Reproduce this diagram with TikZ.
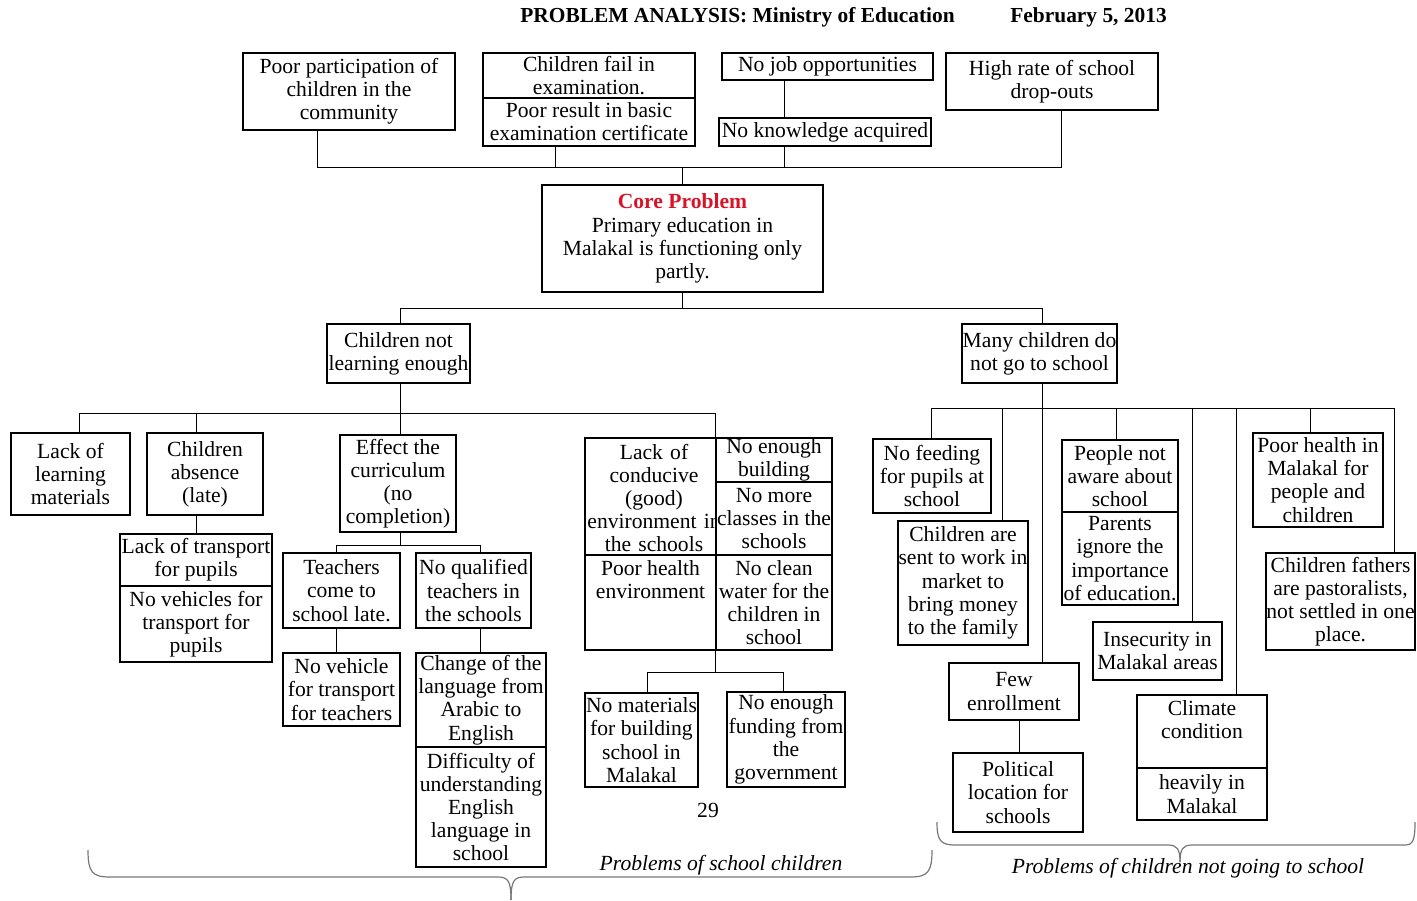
\documentclass[tikz,border=0pt]{standalone}
\usepackage{fontspec}
\setmainfont{Liberation Serif}
\usetikzlibrary{calc}
\definecolor{corered}{RGB}{215,20,40}
\definecolor{bracegray}{RGB}{120,120,120}
\newcommand\fs{\fontsize{10.8}{11.6}\selectfont}
% box given by its corners (x1,y1) and (x2,y2), y growing downwards
\newcommand\pb[6]{%
  \pgfmathsetmacro\bw{(#4-#2)*0.5}%
  \pgfmathsetmacro\bh{(#5-#3)*0.5}%
  \node[pb, minimum width=\bw pt, minimum height=\bh pt] (#1) at ({(#2+#4)/2},{(#3+#5)/2}) {#6};}
\begin{document}
\begin{tikzpicture}[x=0.5pt,y=-0.5pt,
  pb/.style={draw, line width=0.7pt, inner sep=0pt, align=center, font=\fs},
  txt/.style={inner sep=0pt, align=center, font=\fs},
  ln/.style={line width=0.7pt},
  brc/.style={draw=bracegray, line width=0.6pt}]
\useasboundingbox (0,0) rectangle (1417,900);
\fill[white] (0,0) rectangle (1417,900);

% heading
\node[anchor=west, inner sep=0pt, font=\bfseries\fontsize{10.7}{12}\selectfont] (title) at (520,17) {PROBLEM ANALYSIS: Ministry of Education};
\node[anchor=west, inner sep=0pt, font=\bfseries\fontsize{10.7}{12}\selectfont] (date) at (1010,17) {February 5, 2013};

% effects
\pb{A1}{243}{53}{455}{130}{Poor participation of\\children in the\\community}
\pb{A2t}{483}{53}{695}{98}{Children fail in\\examination.}
\pb{A2b}{483}{98}{695}{146}{Poor result in basic\\examination certificate}
\pb{A3}{722}{53}{933}{80}{No job opportunities}
\pb{A4}{719}{118}{931}{146}{No knowledge acquired}
\pb{A5}{946}{53}{1158}{110}{High rate of school\\drop-outs}

% core problem
\pb{core}{542}{185}{823}{292}{{\color{corered}\bfseries Core Problem}\\Primary education in\\Malakal is functioning only\\partly.}

% main causes
\pb{C1}{327}{324}{470}{383}{Children not\\learning enough}
\pb{C2}{962}{324}{1117}{383}{Many children do\\not go to school}

% causes: children not learning enough
\pb{L1}{11}{433}{130}{515}{Lack of\\learning\\materials}
\pb{L2}{147}{433}{263}{515}{Children\\absence\\(late)}
\pb{L2t}{120}{534}{272}{586}{Lack of transport\\for pupils}
\pb{L2b}{120}{586}{272}{662}{No vehicles for\\transport for\\pupils}
\pb{L3}{340}{435}{456}{532}{Effect the\\curriculum\\(no\\completion)}
\pb{L3a}{283}{553}{400}{628}{Teachers\\come to\\school late.}
\pb{L3b}{416}{553}{531}{628}{No qualified\\teachers in\\the schools}
\pb{L3c}{283}{653}{400}{726}{No vehicle\\for transport\\for teachers}
\pb{L3dt}{416}{653}{546}{747}{Change of the\\language from\\Arabic to\\English}
\pb{L3db}{416}{747}{546}{867}{Difficulty of\\understanding\\English\\language in\\school}

% school environment grid
\pb{L4a}{585}{438}{716}{555}{}
\begin{scope}
  \clip (585,438) rectangle (716,555);
  \node[txt, text width=70pt] (L4aT) at (654,498) {Lack of\\conducive\\(good)\\environment in\\the schools};
\end{scope}
\pb{L4b}{716}{438}{832}{482}{No enough\\building}
\pb{L4c}{716}{482}{832}{555}{No more\\classes in the\\schools}
\pb{L4d}{585}{555}{716}{650}{}
\node[txt, anchor=north] (L4dT) at ($(L4d.north)+(0,6)$) {Poor health\\environment};
\pb{L4e}{716}{555}{832}{650}{No clean\\water for the\\children in\\school}
\pb{L5a}{585}{693}{698}{787}{No materials\\for building\\school in\\Malakal}
\pb{L5b}{727}{692}{845}{787}{No enough\\funding from\\the\\government}

% causes: many children do not go to school
\pb{R1}{873}{439}{991}{513}{No feeding\\for pupils at\\school}
\pb{R2}{898}{521}{1028}{645}{Children are\\sent to work in\\market to\\bring money\\to the family}
\pb{R3}{949}{663}{1079}{720}{Few\\enrollment}
\pb{R3a}{953}{753}{1083}{832}{Political\\location for\\schools}
\pb{R4t}{1062}{440}{1178}{512}{People not\\aware about\\school}
\pb{R4b}{1062}{512}{1178}{605}{Parents\\ignore the\\importance\\of education.}
\pb{R5}{1093}{622}{1222}{680}{Insecurity in\\Malakal areas}
\pb{R6t}{1137}{695}{1267}{768}{}
\node[txt, anchor=north] (R6tT) at ($(R6t.north)+(0,6)$) {Climate\\condition};
\pb{R6b}{1137}{768}{1267}{820}{heavily in\\Malakal}
\pb{R8}{1253}{433}{1383}{527}{Poor health in\\Malakal for\\people and\\children}
\pb{R9}{1266}{553}{1415}{650}{Children fathers\\are pastoralists,\\not settled in one\\place.}

% page number
\node[txt] (page) at (708,810) {29};

% ---- connectors: effects to core problem
\coordinate (tb) at ($(core.north)+(0,-17)$);
\coordinate (a1s) at ($(A1.south west)+(75,0)$);
\coordinate (a2s) at ($(A2b.south west)+(73,0)$);
\coordinate (a3s) at ($(A3.south west)+(63,0)$);
\coordinate (a4s) at ($(A4.south west)+(66,0)$);
\coordinate (a5s) at ($(A5.south west)+(116,0)$);
\draw[ln] (a1s) |- (tb) -| (a5s);
\draw[ln] (a2s) -- (a2s |- tb);
\draw[ln] (a4s) -- (a4s |- tb);
\draw[ln] (a3s) -- (a3s |- A4.north);
\draw[ln] (tb) -- (core.north);

% core problem to main causes
\coordinate (mb) at ($(core.south)+(0,16)$);
\coordinate (c1n) at ($(C1.north west)+(74,0)$);
\coordinate (c2n) at ($(C2.north west)+(81,0)$);
\draw[ln] (core.south) -- (mb);
\draw[ln] (c1n) |- (mb) -| (c2n);

% children not learning enough
\coordinate (c1s) at ($(C1.south west)+(74,0)$);
\coordinate (lb) at ($(c1s)+(0,30)$);
\coordinate (l1n) at ($(L1.north west)+(69,0)$);
\coordinate (l2n) at ($(L2.north west)+(50,0)$);
\coordinate (l3n) at ($(L3.north west)+(61,0)$);
\draw[ln] (c1s) -- (lb);
\draw[ln] (l1n) |- (lb) -| (L4b.north west);
\draw[ln] (l2n) -- (l2n |- lb);
\draw[ln] (l3n) -- (l3n |- lb);
\coordinate (l2s) at ($(L2.south west)+(50,0)$);
\draw[ln] (l2s) -- (l2s |- L2t.north);
\coordinate (l3s) at ($(L3.south west)+(61,0)$);
\coordinate (cb) at ($(l3s)+(0,13)$);
\coordinate (l3an) at ($(L3a.north west)+(54,0)$);
\coordinate (l3bn) at ($(L3b.north west)+(65,0)$);
\draw[ln] (l3s) -- (cb);
\draw[ln] (l3an) |- (cb) -| (l3bn);
\coordinate (l3as) at ($(L3a.south west)+(54,0)$);
\coordinate (l3bs) at ($(L3b.south west)+(65,0)$);
\draw[ln] (l3as) -- (l3as |- L3c.north);
\draw[ln] (l3bs) -- (l3bs |- L3dt.north);
\coordinate (gb) at ($(L4e.south west)+(0,22)$);
\coordinate (l5an) at ($(L5a.north west)+(63,0)$);
\coordinate (l5bn) at ($(L5b.north west)+(57,0)$);
\draw[ln] (L4e.south west) -- (gb);
\draw[ln] (l5an) |- (gb) -| (l5bn);

% many children do not go to school
\coordinate (c2s) at ($(C2.south west)+(81,0)$);
\coordinate (rb) at ($(c2s)+(0,25)$);
\coordinate (r1n) at ($(R1.north west)+(59,0)$);
\coordinate (r2n) at ($(R2.north west)+(105,0)$);
\coordinate (r3n) at ($(R3.north west)+(94,0)$);
\coordinate (r4n) at ($(R4t.north west)+(55,0)$);
\coordinate (r5n) at ($(R5.north west)+(100,0)$);
\coordinate (r6n) at ($(R6t.north west)+(100,0)$);
\coordinate (r8n) at ($(R8.north west)+(58,0)$);
\coordinate (r9n) at ($(R9.north west)+(129,0)$);
\draw[ln] (c2s) -- (r3n);
\draw[ln] (r1n) |- (rb) -| (r9n);
\draw[ln] (r2n) -- (r2n |- rb);
\draw[ln] (r4n) -- (r4n |- rb);
\draw[ln] (r5n) -- (r5n |- rb);
\draw[ln] (r6n) -- (r6n |- rb);
\draw[ln] (r8n) -- (r8n |- rb);
\coordinate (r3s) at ($(R3.south west)+(71,0)$);
\draw[ln] (r3s) -- (r3s |- R3a.north);

% group braces
\draw[brc] (88,850) .. controls (88,872) and (92,877) .. (110,877) -- (498,877)
  .. controls (508,877) and (511,881) .. (511,900);
\draw[brc] (511,900) .. controls (511,881) and (514,877) .. (524,877) -- (910,877)
  .. controls (928,877) and (932,872) .. (932,850);
\draw[brc] (937,822) .. controls (937,840) and (940,845) .. (955,845) -- (1168,845)
  .. controls (1177,845) and (1180,849) .. (1180,862);
\draw[brc] (1180,862) .. controls (1180,849) and (1183,845) .. (1192,845) -- (1405,845)
  .. controls (1413,845) and (1415,840) .. (1415,822);
\node[txt, font=\itshape\fs] (grp1) at (721,865) {Problems of school children};
\node[txt, font=\itshape\fs] (grp2) at (1188,868) {Problems of children not going to school};
\end{tikzpicture}
\end{document}
